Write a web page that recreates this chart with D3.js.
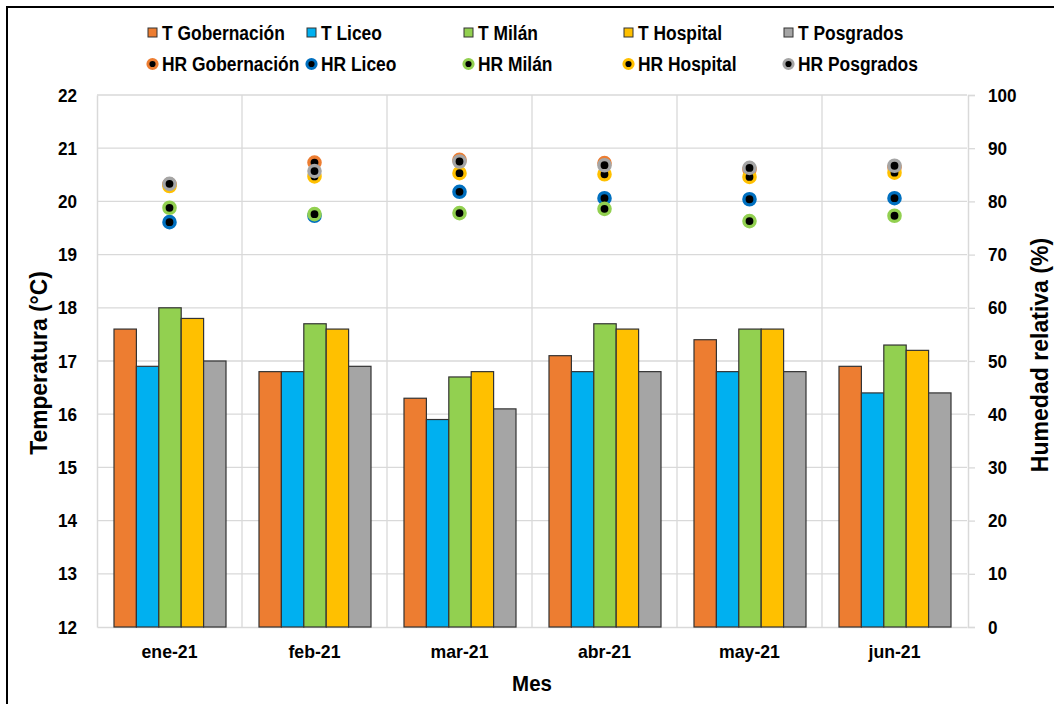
<!DOCTYPE html>
<html><head><meta charset="utf-8">
<script src="https://cdn.jsdelivr.net/npm/d3@7"></script>
<style>
body{margin:0;background:#fff;}
text{font-family:"Liberation Sans Narrow","Arial Narrow","Liberation Sans",Arial,sans-serif;font-weight:bold;fill:#000;}
</style></head><body>
<svg id="chart" width="1054" height="704"></svg>
<script>
const months = ["ene-21","feb-21","mar-21","abr-21","may-21","jun-21"];
const stations = ["Gobernación","Liceo","Milán","Hospital","Posgrados"];
const tGobernacion = [17.6,16.8,16.3,17.1,17.4,16.9];
const tLiceo       = [16.9,16.8,15.9,16.8,16.8,16.4];
const tMilan       = [18.0,17.7,16.7,17.7,17.6,17.3];
const tHospital    = [17.8,17.6,16.8,17.6,17.6,17.2];
const tPosgrados   = [17.0,16.9,16.1,16.8,16.8,16.4];
const hrGobernacion = [83.2,87.3,87.8,87.2,86.0,86.4];
const hrLiceo       = [76.1,77.3,81.8,80.6,80.4,80.6];
const hrMilan       = [78.8,77.6,77.8,78.6,76.3,77.3];
const hrHospital    = [82.9,84.7,85.3,85.1,84.6,85.4];
const hrPosgrados   = [83.3,85.7,87.5,86.8,86.3,86.7];
const tempTicks = [12,13,14,15,16,17,18,19,20,21,22];
const hrTicks = [0,10,20,30,40,50,60,70,80,90,100];

const barColors = ["#ED7D31","#00B0F0","#92D050","#FFC000","#A5A5A5"];
const dotColors = ["#ED7D31","#0070C0","#92D050","#FFC000","#A5A5A5"];
const tSeries = [tGobernacion,tLiceo,tMilan,tHospital,tPosgrados];
const hrSeries = [hrGobernacion,hrLiceo,hrMilan,hrHospital,hrPosgrados];

const svg = d3.select("#chart");
const L=97, R=967, T=95, B=627;

function condense(sel, f){
  sel.each(function(){
    const w = this.getComputedTextLength();
    d3.select(this).attr("textLength", w*f).attr("lengthAdjust","spacingAndGlyphs");
  });
}

// frame
svg.append("rect").attr("x",7).attr("y",7).attr("width",1060).attr("height",710)
  .attr("fill","none").attr("stroke","#000").attr("stroke-width",2);

const x = d3.scaleBand().domain(months).range([L,R]).padding(0);
const xi = d3.scaleBand().domain(stations).range([17, x.bandwidth()-16]).padding(0);
const y = d3.scaleLinear().domain([12,22]).range([B,T]);
const y2 = d3.scaleLinear().domain([0,100]).range([B,T]);

// gridlines
svg.append("g").selectAll("line").data(tempTicks.slice(1)).join("line")
  .attr("x1",L).attr("x2",R).attr("y1",d=>y(d)).attr("y2",d=>y(d))
  .attr("stroke","#D9D9D9").attr("stroke-width",1.3);
svg.append("g").selectAll("line").data(months.slice(1)).join("line")
  .attr("x1",d=>x(d)).attr("x2",d=>x(d)).attr("y1",T).attr("y2",B)
  .attr("stroke","#D9D9D9").attr("stroke-width",1.3);

// axes
const axL = svg.append("g").attr("transform",`translate(${L},0)`)
  .call(d3.axisLeft(y).tickValues(tempTicks).tickSize(0).tickPadding(20));
axL.select(".domain").attr("stroke","#D9D9D9").attr("stroke-width",1.5);
axL.selectAll("text").style("font-size","19px");
condense(axL.selectAll("text"),0.9);

const axR = svg.append("g").attr("transform",`translate(${R+1},0)`)
  .call(d3.axisRight(y2).tickValues(hrTicks).tickSize(7).tickPadding(13));
axR.select(".domain").attr("stroke","#D9D9D9").attr("stroke-width",1.5);
axR.selectAll(".tick line").attr("stroke","#D9D9D9").attr("stroke-width",1.3);
axR.selectAll("text").style("font-size","19px");
condense(axR.selectAll("text"),0.9);

const axB = svg.append("g").attr("transform",`translate(0,${B})`)
  .call(d3.axisBottom(x).tickSize(0).tickPadding(18));
axB.select(".domain").attr("stroke","#D9D9D9").attr("stroke-width",1.5);
axB.selectAll("text").style("font-size","19px");
condense(axB.selectAll("text"),0.93);

// bars
stations.forEach((s,si)=>{
  svg.append("g").selectAll("rect").data(tSeries[si]).join("rect")
    .attr("x",(d,i)=>x(months[i])+xi(s))
    .attr("width",xi.bandwidth())
    .attr("y",d=>y(d)).attr("height",d=>B-y(d))
    .attr("fill",barColors[si]).attr("stroke","#333").attr("stroke-width",1.2);
});

// dots
stations.forEach((s,si)=>{
  svg.append("g").selectAll("circle").data(hrSeries[si]).join("circle")
    .attr("cx",(d,i)=>x(months[i])+x.bandwidth()/2)
    .attr("cy",d=>y2(d)).attr("r",5.6)
    .attr("fill","#000").attr("stroke",dotColors[si]).attr("stroke-width",3.4);
});

// axis titles
const t1 = svg.append("text").attr("transform",`translate(47,${(T+B)/2+2}) rotate(-90)`)
  .attr("text-anchor","middle").style("font-size","24px").text("Temperatura (°C)");
const t2 = svg.append("text").attr("transform",`translate(1048,${(T+B)/2-6}) rotate(-90)`)
  .attr("text-anchor","middle").style("font-size","24px").text("Humedad relativa (%)");
const t3 = svg.append("text").attr("x",(L+R)/2).attr("y",691)
  .attr("text-anchor","middle").style("font-size","22px").text("Mes");
condense(t1,0.95); condense(t2,0.96); condense(t3,0.93);

// legend
const legX = [148,307,464,624,784];
stations.forEach((s,si)=>{
  const g = svg.append("g");
  g.append("rect").attr("x",legX[si]).attr("y",28).attr("width",9).attr("height",9)
    .attr("fill",barColors[si]).attr("stroke","#333").attr("stroke-width",1);
  const a = g.append("text").attr("x",legX[si]+14).attr("y",33).attr("dy","0.36em")
    .style("font-size","20px").text("T "+s);
  g.append("circle").attr("cx",legX[si]+4.5).attr("cy",64).attr("r",4.6)
    .attr("fill","#000").attr("stroke",dotColors[si]).attr("stroke-width",3);
  const b = g.append("text").attr("x",legX[si]+14).attr("y",64).attr("dy","0.36em")
    .style("font-size","20px").text("HR "+s);
  condense(a,0.87); condense(b,0.87);
});
</script></body></html>
